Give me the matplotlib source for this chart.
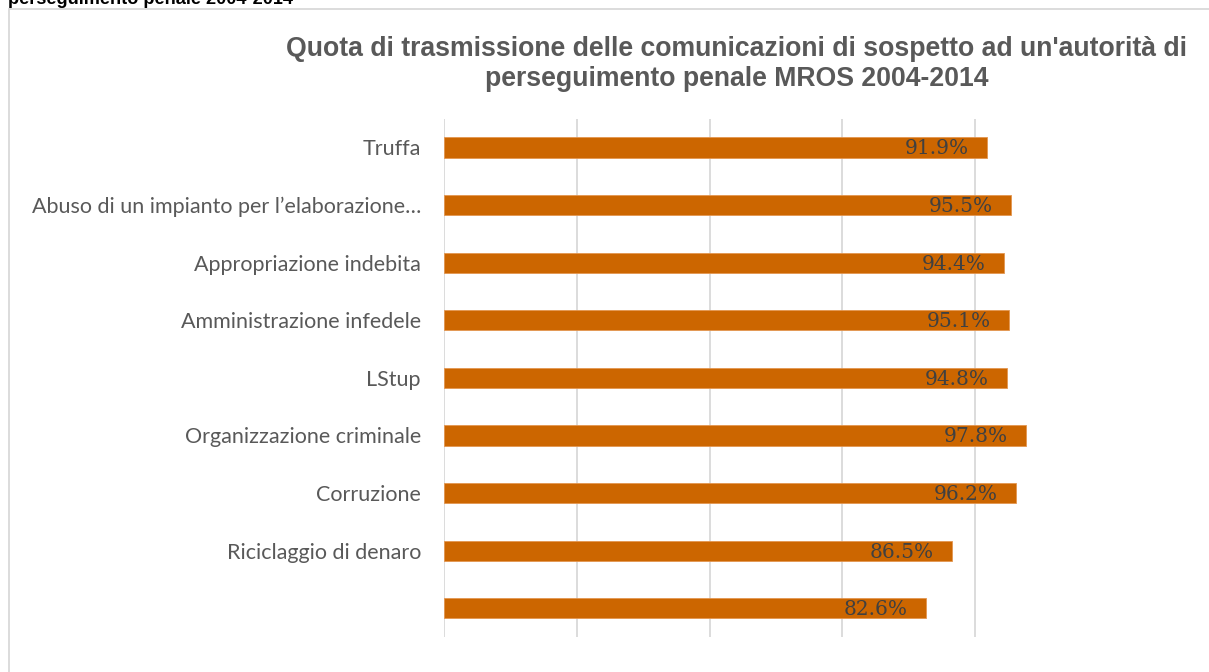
import matplotlib.pyplot as plt
from matplotlib.patches import Rectangle

# categories top to bottom, last one has no label
categories = ["Truffa",
              "Abuso di un impianto per l\u2019elaborazione\u2026",
              "Appropriazione indebita",
              "Amministrazione infedele",
              "LStup",
              "Organizzazione criminale",
              "Corruzione",
              "Riciclaggio di denaro",
              ""]
quota = [91.9, 95.5, 94.4, 95.1, 94.8, 97.8, 96.2, 86.5, 82.6]
grid_ticks = [10, 30, 50, 70, 90]

title_lines = ["Quota di trasmissione delle comunicazioni di sospetto ad un'autorit\u00e0 di",
               "perseguimento penale MROS 2004-2014"]
heading = "perseguimento penale 2004-2014"

W, H = 1209, 672
fig = plt.figure(figsize=(W / 100, H / 100), dpi=100)
fig.patch.set_facecolor("white")

# outer chart frame (right and bottom run past the image)
fig.patches.append(Rectangle((9 / W, -0.1), 1.2, 1 - 9 / H + 0.1,
                             transform=fig.transFigure, fill=False,
                             edgecolor="#d9d9d9", linewidth=1.3))

# heading cut off at the top
fig.text(8 / W, 1 - 4.5 / H, heading, ha="left", va="baseline",
         fontsize=13.1, fontweight="bold", color="black", family="Liberation Sans")

for i, line in enumerate(title_lines):
    fig.text(737 / W, 1 - (56 + 29.5 * i) / H, line, ha="center", va="baseline",
             fontsize=19.2, fontweight="bold", color="#595959", family="Liberation Sans")

ax = fig.add_axes([444.5 / W, 1 - 637 / H, (1041 - 444.5) / W, (637 - 118.7) / H])
ypos = list(range(len(categories)))

for g in grid_ticks:
    ax.axvline(g, color="#d9d9d9", linewidth=1.3, zorder=0)

ax.barh(ypos, [q - 10 for q in quota], left=10, height=0.35,
        color="#cc6600", edgecolor="#e39650", linewidth=0.6, zorder=2)

for y, q in zip(ypos, quota):
    ax.annotate(f"{q:.1f}%", (q, y), xytext=(-13, -1), textcoords="offset points",
                ha="right", va="center", fontsize=14.5, family="DejaVu Serif",
                color="#404040", zorder=3)

ax.set_xlim(10, 100)
ax.set_ylim(len(categories) - 0.5, -0.5)
ax.set_xticks([])
ax.set_yticks(ypos)
ax.set_yticklabels(categories, fontsize=15.5, color="#595959", family="Lato")
ax.tick_params(axis="y", length=0, pad=17)
for s in ax.spines.values():
    s.set_visible(False)

fig.savefig("out.png", dpi=100)
